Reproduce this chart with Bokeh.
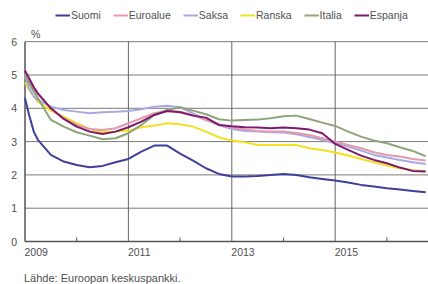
from bokeh.plotting import figure
from bokeh.models import Legend, LegendItem, Range1d
from bokeh.embed import file_html
from bokeh.resources import INLINE

# Quarterly time points (with two extra monthly points at the start)
t = [2009.0, 2009.08, 2009.17, 2009.25, 2009.5, 2009.75,
     2010.0, 2010.25, 2010.5, 2010.75, 2011.0, 2011.25, 2011.5, 2011.75,
     2012.0, 2012.25, 2012.5, 2012.75, 2013.0, 2013.25, 2013.5, 2013.75,
     2014.0, 2014.25, 2014.5, 2014.75, 2015.0, 2015.25, 2015.5, 2015.75,
     2016.0, 2016.25, 2016.5, 2016.75]

suomi = [4.3, 3.8, 3.3, 3.05, 2.6, 2.4, 2.3, 2.23, 2.27, 2.38, 2.48, 2.7, 2.88, 2.88,
         2.64, 2.43, 2.2, 2.03, 1.95, 1.95, 1.97, 2.0, 2.03, 2.0, 1.93, 1.88,
         1.83, 1.77, 1.7, 1.65, 1.6, 1.56, 1.52, 1.48]
euroalue = [5.05, 4.85, 4.6, 4.42, 4.0, 3.7, 3.5, 3.38, 3.35, 3.4, 3.55, 3.7, 3.85, 3.92,
            3.9, 3.8, 3.65, 3.52, 3.42, 3.36, 3.32, 3.3, 3.3, 3.26, 3.2, 3.1,
            3.0, 2.9, 2.8, 2.68, 2.6, 2.55, 2.48, 2.43]
saksa = [4.95, 4.6, 4.35, 4.25, 4.05, 3.95, 3.9, 3.85, 3.88, 3.9, 3.92, 3.97, 4.05, 4.08,
         4.03, 3.85, 3.65, 3.5, 3.38, 3.32, 3.3, 3.28, 3.27, 3.22, 3.14, 3.05,
         2.95, 2.85, 2.73, 2.6, 2.52, 2.45, 2.38, 2.33]
ranska = [4.78, 4.55, 4.35, 4.2, 3.93, 3.75, 3.55, 3.38, 3.28, 3.3, 3.33, 3.43, 3.48, 3.55,
          3.52, 3.45, 3.3, 3.13, 3.03, 2.98, 2.9, 2.9, 2.9, 2.9, 2.8, 2.75,
          2.67, 2.58, 2.48, 2.38, 2.28, 2.2, 2.14, 2.1]
italia = [5.0, 4.75, 4.5, 4.3, 3.65, 3.45, 3.28, 3.18, 3.07, 3.1, 3.25, 3.5, 3.8, 3.95,
          4.03, 3.93, 3.82, 3.67, 3.63, 3.65, 3.66, 3.7, 3.76, 3.78, 3.68, 3.57,
          3.47, 3.3, 3.15, 3.03, 2.95, 2.83, 2.72, 2.56]
espanja = [5.13, 4.9, 4.63, 4.45, 4.0, 3.68, 3.45, 3.3, 3.23, 3.3, 3.43, 3.6, 3.8, 3.92,
           3.88, 3.78, 3.72, 3.5, 3.46, 3.43, 3.42, 3.4, 3.42, 3.4, 3.36, 3.25,
           2.93, 2.75, 2.58, 2.45, 2.35, 2.22, 2.12, 2.1]

series_names = ["Suomi", "Euroalue", "Saksa", "Ranska", "Italia", "Espanja"]
series_values = [suomi, euroalue, saksa, ranska, italia, espanja]
series_colors = ["#3f3f9c", "#e49aae", "#a9a9e2", "#f2e021", "#8ea47a", "#7d1a6e"]
draw_order = ["Ranska", "Saksa", "Euroalue", "Italia", "Espanja", "Suomi"]

y_ticks = [0, 1, 2, 3, 4, 5, 6]
y_tick_labels = ["0", "1", "2", "3", "4", "5", "6"]
x_label_years = [2009, 2011, 2013, 2015]
x_tick_labels = ["2009", "2011", "2013", "2015"]
x_minor_years = [2010, 2012, 2014, 2016]
unit_label = "%"
source_label = "Lähde: Euroopan keskuspankki."

# frame covers the whole canvas; ranges place the 0..6 / 2009.. plot area
W, H = 428, 284
PX_YEAR, PX_UNIT = 51.7, 33.3
LEFT, BOTTOM = 24.5, 43
X0 = 2009 - LEFT / PX_YEAR
X1 = X0 + W / PX_YEAR
Y0 = -BOTTOM / PX_UNIT
Y1 = Y0 + H / PX_UNIT
Y_MIN, Y_MAX = y_ticks[0], y_ticks[-1]
X_MIN = x_label_years[0]

FONT = "Liberation Sans"
TXT = "#505050"
AXIS = "#555555"
GRID = "#7a7a7a"

p = figure(width=W, height=H, output_backend="svg", toolbar_location=None,
           x_range=Range1d(X0, X1), y_range=Range1d(Y0, Y1),
           min_border=0, min_border_left=0, min_border_right=0,
           min_border_top=0, min_border_bottom=0)
p.outline_line_color = None
p.background_fill_color = "white"
p.border_fill_color = "white"
p.axis.visible = False
p.grid.visible = False

# horizontal grid lines (1..6)
hg = y_ticks[1:]
p.segment(x0=[X_MIN] * len(hg), y0=hg, x1=[X1] * len(hg), y1=hg,
          line_color=GRID, line_width=1)
# vertical grid lines (2011, 2013, 2015)
vg = x_label_years[1:]
p.segment(x0=vg, y0=[Y_MIN] * len(vg), x1=vg, y1=[Y_MAX] * len(vg),
          line_color="#666666", line_width=1)
# small inner ticks on the x axis
p.segment(x0=x_minor_years, y0=[Y_MIN] * len(x_minor_years), x1=x_minor_years,
          y1=[Y_MIN + 4 / PX_UNIT] * len(x_minor_years), line_color=AXIS, line_width=1)
# axis lines
p.segment(x0=[X_MIN, X_MIN], y0=[Y_MIN, Y_MIN], x1=[X1, X_MIN], y1=[Y_MIN, Y_MAX],
          line_color=AXIS, line_width=1.5)

renderers = {}
for name in draw_order:
    i = series_names.index(name)
    renderers[name] = p.line(t, series_values[i], line_color=series_colors[i], line_width=2)

# tick labels and texts
p.text(x=[X_MIN] * len(y_ticks), y=y_ticks, text=y_tick_labels, x_offset=-8,
       text_align="right", text_baseline="middle", text_font={"value": FONT},
       text_font_size="10.5px", text_color=TXT)
p.text(x=x_label_years, y=[Y_MIN] * len(x_label_years), text=x_tick_labels, x_offset=-0.5,
       y_offset=6, text_align="left", text_baseline="top", text_font={"value": FONT},
       text_font_size="10.5px", text_color=TXT)
p.text(x=[X_MIN], y=[Y_MAX], text=[unit_label], x_offset=6, y_offset=-8,
       text_align="left", text_baseline="middle", text_font={"value": FONT},
       text_font_size="10.5px", text_color=TXT)
p.text(x=[X_MIN], y=[Y_MIN], text=[source_label], x_offset=-1, y_offset=30,
       text_align="left", text_baseline="top", text_font={"value": FONT},
       text_font_size="11px", text_color=TXT)

items = [LegendItem(label=n, renderers=[renderers[n]]) for n in series_names]
legend = Legend(items=items, orientation="horizontal", location=(55, H - 21),
                glyph_width=15, glyph_height=12, label_standoff=1, spacing=12,
                padding=0, margin=0, border_line_color=None, background_fill_alpha=0,
                label_text_font=FONT, label_text_font_size="10.5px", label_text_color=TXT,
                label_height=12)
p.add_layout(legend, "center")

open("out.html", "w").write(file_html(p, INLINE))
